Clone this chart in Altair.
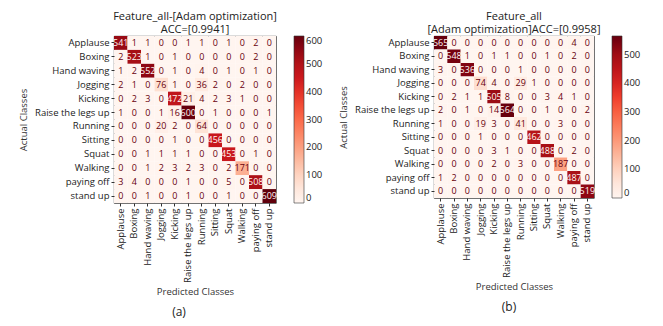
import altair as alt
import pandas as pd

classes = ["Applause", "Boxing", "Hand waving", "Jogging", "Kicking",
           "Raise the legs up", "Running", "Sitting", "Squat", "Walking",
           "paying off", "stand up"]

matrix_a = [
    [541, 1, 1, 0, 0, 1, 1, 0, 1, 0, 2, 0],
    [2, 523, 1, 0, 1, 0, 0, 0, 0, 0, 2, 0],
    [1, 2, 552, 0, 1, 0, 4, 0, 1, 0, 1, 0],
    [2, 1, 0, 76, 1, 0, 36, 2, 0, 2, 0, 0],
    [0, 2, 3, 0, 472, 21, 4, 2, 3, 1, 0, 0],
    [1, 0, 0, 1, 16, 600, 0, 1, 0, 0, 0, 1],
    [0, 0, 0, 20, 2, 0, 64, 0, 0, 0, 0, 0],
    [0, 0, 0, 0, 1, 0, 0, 456, 0, 0, 0, 0],
    [0, 0, 1, 1, 1, 1, 0, 0, 453, 0, 1, 0],
    [0, 0, 1, 2, 3, 2, 3, 0, 2, 171, 0, 0],
    [3, 4, 0, 0, 0, 1, 0, 0, 5, 0, 508, 0],
    [0, 0, 1, 0, 0, 1, 0, 0, 1, 0, 0, 609],
]

matrix_b = [
    [565, 0, 0, 0, 0, 0, 0, 0, 0, 0, 4, 0],
    [0, 548, 1, 0, 1, 1, 0, 0, 1, 0, 2, 0],
    [3, 0, 536, 0, 0, 0, 1, 0, 0, 0, 0, 0],
    [0, 0, 0, 74, 4, 0, 29, 1, 0, 0, 0, 0],
    [0, 2, 1, 1, 505, 8, 0, 0, 3, 4, 1, 0],
    [2, 0, 1, 0, 14, 564, 0, 0, 1, 0, 0, 2],
    [1, 0, 0, 19, 3, 0, 41, 0, 0, 3, 0, 0],
    [0, 0, 0, 1, 0, 0, 0, 462, 0, 0, 0, 0],
    [0, 0, 0, 0, 3, 1, 0, 0, 488, 0, 2, 0],
    [0, 0, 0, 0, 2, 0, 3, 0, 0, 187, 0, 0],
    [1, 2, 0, 0, 0, 0, 0, 0, 0, 0, 487, 0],
    [0, 0, 0, 0, 0, 0, 0, 0, 0, 0, 0, 519],
]

title_a = ["Feature_all-[Adam optimization]", "ACC=[0.9941]"]
title_b = ["Feature_all", "[Adam optimization]ACC=[0.9958]"]
ticks_a = [0, 100, 200, 300, 400, 500, 600]
ticks_b = [0, 100, 200, 300, 400, 500]

# matplotlib "Reds" colormap stops
reds = ["#fff5f0", "#fee0d2", "#fcbba1", "#fc9272", "#fb6a4a",
        "#ef3b2c", "#cb181d", "#a50f15", "#67000d"]

FONT = "Open Sans"


def long_df(mat):
    rows = []
    for i, a in enumerate(classes):
        for j, p in enumerate(classes):
            rows.append({"actual": a, "pred": p, "count": mat[i][j]})
    return pd.DataFrame(rows)


def panel(mat, title, caption, dmax, ticks, w, h, cap_dx):
    df = long_df(mat)
    thr = dmax / 2
    stops = [dmax * k / (len(reds) - 1) for k in range(len(reds))]
    base = alt.Chart(df)
    x = alt.X("pred:N", sort=classes, title="Predicted Classes",
              axis=alt.Axis(labelAngle=270, labelFont=FONT, labelFontSize=9.5,
                            titleFont=FONT, titleFontSize=9.5, titleFontWeight="normal",
                            titleColor="#333", labelColor="#222", domain=False,
                            tickSize=3, tickColor="#333", titlePadding=4))
    y = alt.Y("actual:N", sort=classes, title="Actual Classes",
              axis=alt.Axis(labelFont=FONT, labelFontSize=9.5, titleFont=FONT,
                            titleFontSize=9.5, titleFontWeight="normal",
                            titleColor="#333", labelColor="#222", domain=False,
                            tickSize=3, tickColor="#333", titlePadding=6))
    rect = base.mark_rect().encode(
        x=x, y=y,
        color=alt.Color("count:Q",
                        scale=alt.Scale(domain=stops, range=reds, type="linear"),
                        legend=alt.Legend(title=None, values=ticks,
                                          gradientLength=h, gradientThickness=10,
                                          labelFont=FONT, labelFontSize=9.5,
                                          labelColor="#222", offset=18,
                                          gradientStrokeColor="#333",
                                          gradientStrokeWidth=0.6)),
    )
    text = base.mark_text(font=FONT, fontSize=9).encode(
        x=alt.X("pred:N", sort=classes),
        y=alt.Y("actual:N", sort=classes),
        text="count:Q",
        color=alt.condition(alt.datum["count"] > thr,
                            alt.value("#fff5f0"), alt.value("#67000d")),
    )
    cap = alt.Chart(pd.DataFrame({"t": [caption]})).mark_text(
        font=FONT, fontSize=12, color="#222").encode(
        text="t:N", x=alt.value(w / 2 + cap_dx), y=alt.value(h + 109))
    return alt.layer(rect, text, cap).properties(
        width=w, height=h,
        title=alt.TitleParams(title, font=FONT, fontSize=11, fontWeight="normal",
                              color="#222", frame="group", offset=1, lineHeight=13.5),
    )


left = panel(matrix_a, title_a, "(a)", 600, ticks_a, 162, 167, -16)
right = panel(matrix_b, title_b, "(b)", 565, ticks_b, 160, 162, -5)

chart = alt.hconcat(left, right, spacing=14).resolve_scale(
    color="independent"
).properties(
    padding={"left": 10, "top": 2, "right": 5, "bottom": 0}
).configure_view(stroke="#222", strokeWidth=0.8)

chart.save("out.html", embed_options={"renderer": "svg", "actions": False})
